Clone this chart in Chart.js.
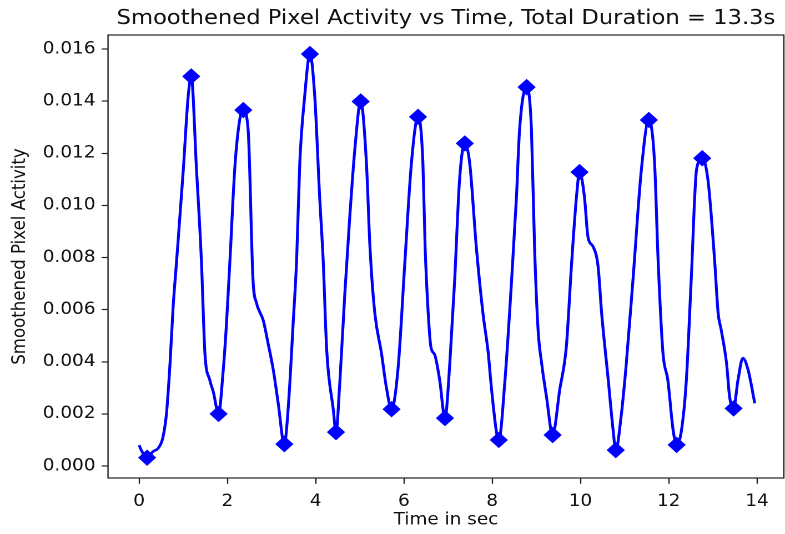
<!DOCTYPE html>
<html>
<head>
<meta charset="utf-8">
<script src="https://cdn.jsdelivr.net/npm/chart.js@4.4.1/dist/chart.umd.min.js"></script>
<style>
  html, body { margin: 0; padding: 0; background: #fff; overflow: hidden; }
  #marcoGrafico { width: 707px; height: 534px; transform: scaleX(1.1103); transform-origin: 0 0; }
</style>
</head>
<body>
<div id="marcoGrafico"><canvas id="grafico" width="707" height="534"></canvas></div>
<script>
// curva suavizada (tiempo en s, actividad)
const tiempos = [0.00, 0.06, 0.18, 0.31, 0.44, 0.54, 0.62, 0.70, 0.77, 0.85, 1.00, 1.11, 1.18, 1.30, 1.41, 1.49, 1.60, 1.68, 1.80, 1.90,
  1.98, 2.06, 2.17, 2.28, 2.36, 2.47, 2.58, 2.66, 2.73, 2.81, 2.92, 3.04, 3.15, 3.29, 3.38, 3.49, 3.57, 3.64, 3.75, 3.87,
  3.98, 4.09, 4.17, 4.25, 4.40, 4.46, 4.55, 4.66, 4.77, 4.89, 5.02, 5.15, 5.23, 5.34, 5.49, 5.60, 5.72, 5.87, 6.02, 6.17,
  6.32, 6.43, 6.48, 6.55, 6.61, 6.70, 6.81, 6.93, 7.04, 7.15, 7.26, 7.38, 7.49, 7.64, 7.79, 7.91, 7.98, 8.10, 8.15, 8.29,
  8.44, 8.55, 8.62, 8.78, 8.89, 8.96, 9.04, 9.12, 9.23, 9.37, 9.53, 9.68, 9.80, 9.91, 9.98, 10.09, 10.17, 10.29, 10.40, 10.48,
  10.63, 10.74, 10.80, 10.93, 11.04, 11.19, 11.38, 11.55, 11.68, 11.76, 11.87, 11.98, 12.10, 12.18, 12.29, 12.40, 12.51, 12.63, 12.76, 12.89,
  13.04, 13.12, 13.19, 13.31, 13.38, 13.47, 13.57, 13.68, 13.80, 13.95];
const actividad = [0.00080, 0.00057, 0.00032, 0.00055, 0.00070, 0.00111, 0.00203, 0.00395, 0.00611, 0.00790, 0.01136, 0.01417, 0.01495, 0.01136, 0.00790, 0.00434, 0.00330, 0.00285, 0.00200, 0.00357,
  0.00549, 0.00798, 0.01150, 0.01330, 0.01366, 0.01289, 0.00714, 0.00625, 0.00592, 0.00560, 0.00472, 0.00368, 0.00242, 0.00084, 0.00228, 0.00549, 0.00798, 0.01163, 0.01417, 0.01581,
  0.01417, 0.01033, 0.00790, 0.00445, 0.00215, 0.00130, 0.00330, 0.00660, 0.00950, 0.01220, 0.01399, 0.01163, 0.00841, 0.00587, 0.00434, 0.00304, 0.00218, 0.00381, 0.00779, 0.01163,
  0.01340, 0.01163, 0.00841, 0.00587, 0.00458, 0.00426, 0.00330, 0.00184, 0.00395, 0.00714, 0.01097, 0.01238, 0.01163, 0.00841, 0.00587, 0.00434, 0.00304, 0.00127, 0.00100, 0.00330,
  0.00714, 0.01033, 0.01289, 0.01454, 0.01289, 0.00841, 0.00522, 0.00395, 0.00266, 0.00119, 0.00292, 0.00458, 0.00779, 0.01033, 0.01128, 0.01033, 0.00880, 0.00841, 0.00765, 0.00587,
  0.00330, 0.00138, 0.00061, 0.00203, 0.00395, 0.00714, 0.01136, 0.01328, 0.01163, 0.00790, 0.00434, 0.00330, 0.00138, 0.00081, 0.00138, 0.00330, 0.00714, 0.01136, 0.01181, 0.01097,
  0.00790, 0.00587, 0.00522, 0.00395, 0.00266, 0.00221, 0.00330, 0.00414, 0.00368, 0.00241];

// picos y valles marcados con rombos
const tiemposPicos = [0.18, 1.18, 1.80, 2.36, 3.29, 3.87, 4.46, 5.02, 5.72, 6.32, 6.93, 7.38, 8.15, 8.78, 9.37, 9.98, 10.80, 11.55, 12.18, 12.76, 13.47];
const valoresPicos = [0.00032, 0.01495, 0.00200, 0.01366, 0.00084, 0.01581, 0.00130, 0.01399, 0.00218, 0.01340, 0.00184, 0.01238, 0.00100, 0.01454, 0.00119, 0.01128, 0.00061, 0.01328, 0.00081, 0.01181, 0.00221];

const ticksX = [0, 2, 4, 6, 8, 10, 12, 14];
const ticksY = [0, 0.002, 0.004, 0.006, 0.008, 0.010, 0.012, 0.014, 0.016];

const titulo = 'Smoothened Pixel Activity vs Time, Total Duration = 13.3s';
const tituloX = 'Time in sec';
const tituloY = 'Smoothened Pixel Activity';

const fuente = '"DejaVu Sans", sans-serif';
const colorTexto = '#111';

const marco = {
  id: 'marco',
  afterDraw(chart) {
    const { ctx, chartArea } = chart;
    ctx.save();
    ctx.strokeStyle = '#222';
    ctx.lineWidth = 1.2;
    ctx.strokeRect(chartArea.left, chartArea.top, chartArea.right - chartArea.left, chartArea.bottom - chartArea.top);
    ctx.fillStyle = colorTexto;
    ctx.font = '20.4px ' + fuente;
    ctx.textAlign = 'center';
    ctx.textBaseline = 'alphabetic';
    ctx.fillText(titulo, (chartArea.left + chartArea.right) / 2, 24);
    ctx.restore();
  }
};

const ctx = document.getElementById('grafico').getContext('2d');
const chart = new Chart(ctx, {
  type: 'line',
  data: {
    datasets: [
      {
        label: 'picos',
        data: tiemposPicos.map((t, i) => ({ x: t, y: valoresPicos[i] })),
        showLine: false,
        pointStyle: 'rectRot',
        pointRadius: 7.5,
        pointBackgroundColor: '#0000ff',
        pointBorderColor: '#0000ff',
        pointBorderWidth: 1,
        clip: false
      },
      {
        label: 'actividad',
        data: tiempos.map((t, i) => ({ x: t, y: actividad[i] })),
        borderColor: '#0000ff',
        borderWidth: 2.6,
        pointRadius: 0,
        fill: false,
        cubicInterpolationMode: 'monotone'
      }
    ]
  },
  options: {
    responsive: false,
    animation: false,
    devicePixelRatio: 2,
    layout: { autoPadding: false, padding: { top: 35, right: 1, left: 0, bottom: 0 } },
    plugins: {
      legend: { display: false },
      tooltip: { enabled: false },
      title: { display: false }
    },
    scales: {
      x: {
        type: 'linear',
        min: -0.705,
        max: 14.61,
        afterBuildTicks: (scale) => { scale.ticks = ticksX.map(v => ({ value: v })); },
        afterFit: (scale) => {
          scale.height = 56;
          scale.paddingLeft = 0;
          scale.paddingRight = 0;
        },
        grid: { display: true, drawOnChartArea: false, drawTicks: true, tickLength: 5.8, tickColor: '#222', tickWidth: 1.2 },
        border: { display: false },
        ticks: {
          padding: 8,
          maxRotation: 0,
          autoSkip: false,
          color: colorTexto,
          font: { family: fuente, size: 16.6 },
          callback: (v) => String(v)
        },
        title: {
          display: true,
          text: tituloX,
          color: colorTexto,
          font: { family: fuente, size: 16.6 },
          padding: { top: 0, bottom: 4 }
        }
      },
      y: {
        type: 'linear',
        min: -0.00046,
        max: 0.01654,
        afterBuildTicks: (scale) => { scale.ticks = ticksY.map(v => ({ value: v })); },
        afterFit: (scale) => {
          scale.width = 97.3;
          scale.paddingTop = 0;
          scale.paddingBottom = 0;
        },
        grid: { display: true, drawOnChartArea: false, drawTicks: true, tickLength: 5.8, tickColor: '#222', tickWidth: 1.2 },
        border: { display: false },
        ticks: {
          padding: 5.5,
          autoSkip: false,
          color: colorTexto,
          font: { family: fuente, size: 16.6 },
          callback: (v) => v.toFixed(3)
        },
        title: {
          display: true,
          text: tituloY,
          color: colorTexto,
          font: { family: fuente, size: 16.6 },
          padding: { top: 8, bottom: 8 }
        }
      }
    }
  },
  plugins: [marco]
});
</script>
</body>
</html>
